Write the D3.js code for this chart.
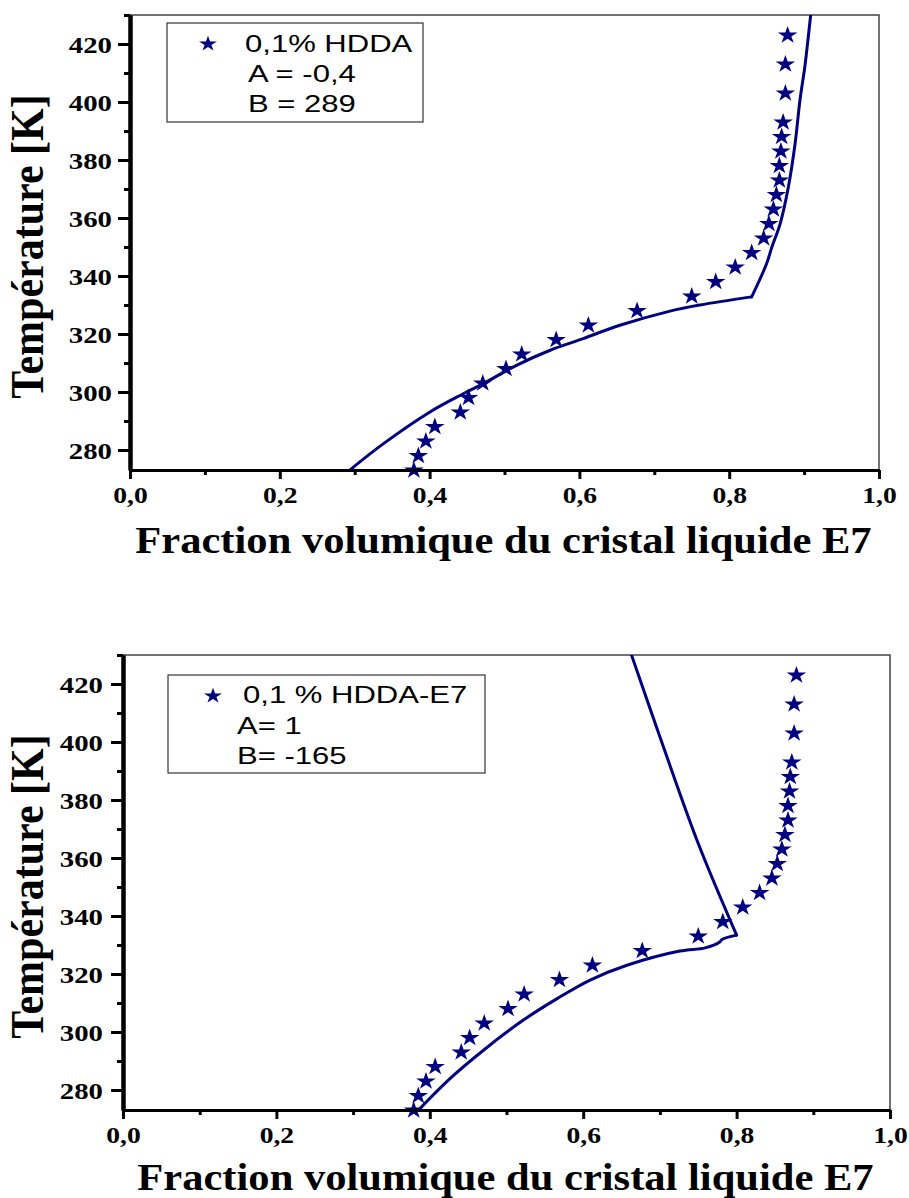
<!DOCTYPE html>
<html>
<head>
<meta charset="utf-8">
<script src="https://cdn.jsdelivr.net/npm/d3@7"></script>
<style>
  body { margin: 0; background: #fff; }
  svg { display: block; }
</style>
</head>
<body>
<script>
// Measured phase-diagram points: 0,1 % HDDA / E7 mixture
const temperatureK = [273, 278, 283, 288, 293, 298, 303, 308, 313, 318, 323, 328, 333, 338,
                      343, 348, 353, 358, 363, 368, 373, 378, 383, 388, 393, 403, 413, 423];
const fractionE7 = [0.379, 0.385, 0.395, 0.407, 0.441, 0.452, 0.471, 0.502, 0.523, 0.569, 0.612, 0.677, 0.750, 0.782,
                     0.808, 0.830, 0.846, 0.853, 0.859, 0.863, 0.867, 0.867, 0.869, 0.870, 0.872, 0.875, 0.875, 0.878];

// Theoretical curve, A = -0,4 / B = 289 (corner at index fitACorner)
const fitAFraction = [0.293, 0.338, 0.4005, 0.445, 0.476, 0.516, 0.561, 0.605, 0.654, 0.721, 0.761, 0.830,
                      0.850, 0.857, 0.868, 0.879, 0.888, 0.8945, 0.901, 0.9056, 0.9088];
const fitATemp = [273, 282.1, 293.1, 299.4, 303.5, 309.2, 314.4, 318.4, 323, 327.9, 330, 332.8,
                  344.3, 350, 358, 370.7, 385.7, 400.7, 412.2, 422.5, 430];
const fitACorner = 11;

// Theoretical curve, A = 1 / B = -165 (corner at index fitBCorner)
const fitBFraction = [0.385, 0.4263, 0.470, 0.522, 0.566, 0.609, 0.657, 0.726, 0.759, 0.778, 0.781, 0.800,
                      0.750, 0.705, 0.663];
const fitBTemp = [273, 283.9, 293.7, 304.1, 311.5, 317.9, 323, 327.9, 329, 331, 331.9, 333.4,
                  365, 398, 430];
const fitBCorner = 11;

const xTicks = [0, 0.2, 0.4, 0.6, 0.8, 1.0];
const xMinorTicks = [0.1, 0.3, 0.5, 0.7, 0.9];
const yTicks = [280, 300, 320, 340, 360, 380, 400, 420];
const yMinorTicks = [290, 310, 330, 350, 370, 390, 410, 430];
const yDomain = [273.1, 430];

const legendTop = ["0,1% HDDA", "A = -0,4", "B = 289"];
const legendBottom = ["0,1 % HDDA-E7", "A= 1", "B= -165"];
const xTitle = "Fraction volumique du cristal liquide E7";
const yTitle = "Température [K]";

const NAVY = "#000080";
const SERIF = "'Liberation Serif', 'Times New Roman', serif";
const SANS = "'Liberation Sans', Arial, sans-serif";

const svg = d3.select("body").append("svg")
  .attr("width", 909).attr("height", 1198);

function drawPanel(cfg) {
  const { box, fitX, fitT, corner, legend, id } = cfg;
  const x = d3.scaleLinear().domain([0, 1]).range([box.left, box.right]);
  const y = d3.scaleLinear().domain(yDomain).range([box.bottom, box.top]);
  const g = svg.append("g");

  // thin frame on top and right
  g.append("path")
    .attr("d", `M${box.left},${box.top}H${box.right}V${box.bottom}`)
    .attr("fill", "none").attr("stroke", "#444").attr("stroke-width", 1.5);

  svg.append("clipPath").attr("id", id).append("rect")
    .attr("x", box.left).attr("y", box.top)
    .attr("width", box.right - box.left).attr("height", box.bottom - box.top);

  // model curve: two smooth branches meeting at a sharp corner
  const pts = d3.zip(fitX, fitT);
  const branches = [pts.slice(0, corner + 1), pts.slice(corner)];
  const line = d3.line().x(d => x(d[0])).y(d => y(d[1])).curve(d3.curveCatmullRom.alpha(0.5));
  g.append("g").attr("clip-path", `url(#${id})`)
    .selectAll("path").data(branches).join("path")
    .attr("d", line)
    .attr("fill", "none").attr("stroke", NAVY)
    .attr("stroke-width", 3).attr("stroke-linejoin", "round").attr("stroke-linecap", "round");

  // experimental points
  const star = d3.symbol(d3.symbolStar, 95);
  g.append("g").selectAll("path")
    .data(d3.zip(fractionE7, temperatureK))
    .join("path")
    .attr("transform", d => `translate(${x(d[0])},${y(d[1])}) scale(1.12,1)`)
    .attr("d", star)
    .attr("fill", NAVY);

  const styleAxis = (sel, w) => {
    sel.attr("font-family", SERIF).attr("font-weight", "bold").attr("font-size", 24);
    sel.select(".domain").attr("stroke", "#000").attr("stroke-width", w);
    sel.selectAll(".tick line").attr("stroke", "#000").attr("stroke-width", 3);
    sel.selectAll(".tick text")
      .attr("font-family", SERIF).attr("font-weight", "bold").attr("font-size", 24)
      .attr("fill", "#000");
  };

  // x axis
  g.append("g").attr("transform", `translate(0,${box.bottom})`)
    .call(d3.axisBottom(x).tickValues(xMinorTicks).tickSize(5).tickSizeOuter(0).tickFormat(""))
    .call(s => styleAxis(s, 3));
  const xa = g.append("g").attr("transform", `translate(0,${box.bottom})`)
    .call(d3.axisBottom(x).tickValues(xTicks).tickSize(9).tickSizeOuter(0)
      .tickFormat(d => d3.format(".1f")(d).replace(".", ",")))
    .call(s => styleAxis(s, 3));
  xa.selectAll(".tick text")
    .attr("y", 0).attr("dy", 0)
    .attr("transform", "translate(0,33) scale(1.15,1)");

  // y axis
  g.append("g").attr("transform", `translate(${box.left},0)`)
    .call(d3.axisLeft(y).tickValues(yMinorTicks).tickSize(6).tickSizeOuter(0).tickFormat(""))
    .call(s => styleAxis(s, 4));
  const ya = g.append("g").attr("transform", `translate(${box.left},0)`)
    .call(d3.axisLeft(y).tickValues(yTicks).tickSize(12).tickSizeOuter(0))
    .call(s => styleAxis(s, 4));
  ya.selectAll(".tick text")
    .attr("x", 0).attr("dy", "0.34em")
    .attr("transform", `translate(${-box.labelGap},0) scale(1.2,1)`);

  // axis titles
  g.append("text")
    .attr("transform", `translate(${(box.left + box.right) / 2 - 1},${box.bottom + cfg.xTitleOffset}) scale(1.12,1)`)
    .attr("text-anchor", "middle")
    .attr("font-family", SERIF).attr("font-weight", "bold").attr("font-size", 38)
    .text(xTitle);
  g.append("text")
    .attr("transform", `translate(43,${(box.top + box.bottom) / 2 + 4}) scale(1.08,1) rotate(-90)`)
    .attr("text-anchor", "middle")
    .attr("font-family", SERIF).attr("font-weight", "bold").attr("font-size", 42)
    .text(yTitle);

  // legend
  const lg = cfg.legendBox;
  g.append("rect")
    .attr("x", lg.x).attr("y", lg.y).attr("width", lg.w).attr("height", lg.h)
    .attr("fill", "#fff").attr("stroke", "#333").attr("stroke-width", 1.2);
  g.append("path")
    .attr("transform", `translate(${lg.starX},${lg.starY}) scale(1.15,1)`)
    .attr("d", d3.symbol(d3.symbolStar, 75))
    .attr("fill", NAVY);
  g.append("g").selectAll("text")
    .data(legend)
    .join("text")
    .attr("transform", (d, i) => `translate(${lg.textX[i]},${lg.baseY + i * lg.lineH}) scale(1.35,1)`)
    .attr("font-family", SANS).attr("font-size", 23).attr("fill", "#000")
    .text(d => d);
}

drawPanel({
  id: "clip-top",
  box: { left: 130, right: 879, top: 15, bottom: 470, labelGap: 18 },
  fitX: fitAFraction, fitT: fitATemp, corner: fitACorner,
  legend: legendTop,
  xTitleOffset: 83,
  legendBox: { x: 167, y: 23, w: 256, h: 99, starX: 208, starY: 44,
               textX: [245, 248, 248], baseY: 52, lineH: 30 }
});

drawPanel({
  id: "clip-bottom",
  box: { left: 123, right: 890, top: 655, bottom: 1110, labelGap: 20 },
  fitX: fitBFraction, fitT: fitBTemp, corner: fitBCorner,
  legend: legendBottom,
  xTitleOffset: 80,
  legendBox: { x: 168, y: 675, w: 317, h: 98, starX: 213, starY: 696,
               textX: [243, 237, 237], baseY: 703, lineH: 30.5 }
});
</script>
</body>
</html>
